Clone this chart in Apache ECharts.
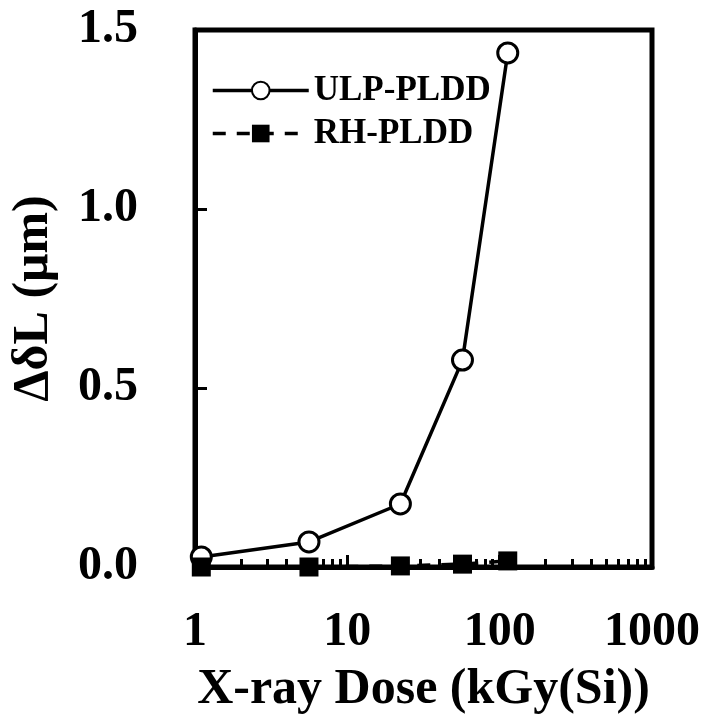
<!DOCTYPE html>
<html>
<head>
<meta charset="utf-8">
<script src="https://cdn.jsdelivr.net/npm/echarts@6/dist/echarts.min.js"></script>
<style>html,body{margin:0;padding:0;background:#fff}#c{width:707px;height:725px}</style>
</head>
<body>
<div id="c"></div>
<script>
const doseULP = [1.1, 5.6, 22.3, 57, 113];
const valULP  = [0.028, 0.070, 0.176, 0.578, 1.436];
const doseRH  = [1.1, 5.6, 22.3, 57, 113];
const valRH   = [0.0, 0.0, 0.003, 0.008, 0.017];
const xMajorTicks = [1, 10, 100, 1000];
const xMinorTicks = [2,3,4,5,6,7,8,9,20,30,40,50,60,70,80,90,200,300,400,500,600,700,800,900];
const yTicks = [0, 0.5, 1.0, 1.5];
const seriesNames = ['ULP-PLDD', 'RH-PLDD'];
const xTitle = 'X-ray Dose (kGy(Si))';
const yTitle = 'ΔδL (μm)';

const FONT = '"Liberation Serif","Times New Roman",serif';
const chart = echarts.init(document.getElementById('c'));
chart.setOption({
  animation: false,
  backgroundColor: '#fff',
  grid: {left: 195, right: 55, top: 30, bottom: 158, show: true, borderColor: '#000', borderWidth: 5,
         containLabel: false, outerBoundsMode: 'none'},
  legend: {
    data: seriesNames,
    orient: 'vertical', left: 206, top: 68,
    itemWidth: 96, itemHeight: 22, itemGap: 8,
    lineStyle: {width: 3.5},
    textStyle: {fontFamily: FONT, fontWeight: 'bold', fontSize: 35, color: '#000'}
  },
  xAxis: [{
    type: 'log', logBase: 10, min: 1, max: 1000,
    name: xTitle, nameLocation: 'middle', nameGap: 98,
    nameTextStyle: {fontFamily: FONT, fontWeight: 'bold', fontSize: 50, color: '#000'},
    axisLine: {show: true, lineStyle: {color: '#000', width: 5}},
    axisTick: {show: true, inside: true, length: 12, lineStyle: {color: '#000', width: 3}, customValues: xMajorTicks},
    axisLabel: {margin: 42, fontFamily: FONT, fontWeight: 'bold', fontSize: 48, color: '#000', customValues: xMajorTicks, formatter: v => String(Math.round(v))},
    splitLine: {show: false}, minorTick: {show: false}
  }, {
    type: 'log', logBase: 10, min: 1, max: 1000, position: 'bottom', gridIndex: 0,
    axisLine: {show: false},
    axisTick: {show: true, inside: true, length: 8, lineStyle: {color: '#000', width: 3}, customValues: xMinorTicks},
    axisLabel: {show: false},
    splitLine: {show: false}
  }],
  yAxis: {
    type: 'value', min: 0, max: 1.5, interval: 0.5,
    name: yTitle, nameLocation: 'middle', nameGap: 136, nameRotate: 90,
    nameTextStyle: {fontFamily: FONT, fontWeight: 'bold', fontSize: 50, color: '#000'},
    axisLine: {show: true, lineStyle: {color: '#000', width: 5}},
    axisTick: {show: true, inside: true, length: 12, lineStyle: {color: '#000', width: 3}, customValues: yTicks},
    axisLabel: {margin: 57, fontFamily: FONT, fontWeight: 'bold', fontSize: 48, color: '#000', formatter: v => v.toFixed(1)},
    splitLine: {show: false}
  },
  series: [{
    name: seriesNames[0], type: 'line', xAxisIndex: 0,
    data: doseULP.map((d, i) => [d, valULP[i]]),
    symbol: 'circle', symbolSize: 20, clip: false, z: 2,
    lineStyle: {color: '#000', width: 3.5},
    itemStyle: {color: '#fff', borderColor: '#000', borderWidth: 3}
  }, {
    name: seriesNames[1], type: 'line', xAxisIndex: 0,
    data: doseRH.map((d, i) => [d, valRH[i]]),
    symbol: 'rect', symbolSize: 19, clip: false, z: 3,
    lineStyle: {color: '#000', width: 3.5, type: [13, 11]},
    itemStyle: {color: '#000', borderColor: '#000', borderWidth: 0}
  }]
});
</script>
</body>
</html>
